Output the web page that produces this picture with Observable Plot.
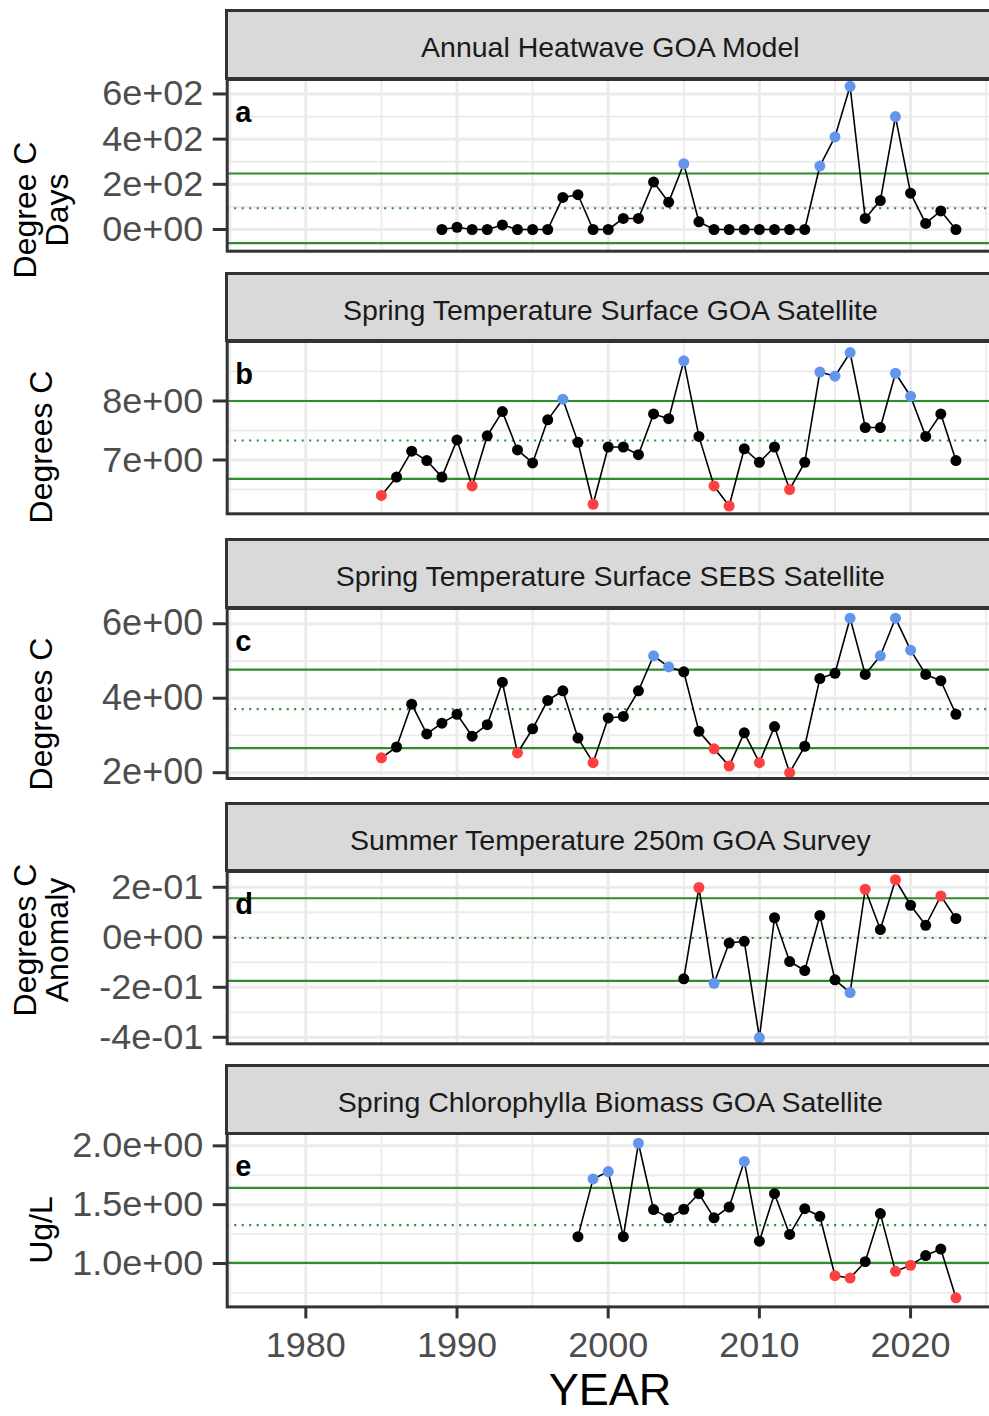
<!DOCTYPE html>
<html><head><meta charset="utf-8">
<script src="https://cdn.jsdelivr.net/npm/d3@7"></script>
<script src="https://cdn.jsdelivr.net/npm/@observablehq/plot@0.6"></script>
<style>
html,body{margin:0;padding:0;overflow:hidden;background:#fff;width:989px;height:1416px;}
#root{position:relative;width:989px;height:1416px;overflow:hidden;font-family:"Liberation Sans",Arial,sans-serif;background:#fff;}
.strip{position:absolute;box-sizing:border-box;background:#d9d9d9;border:3px solid #333;display:flex;align-items:center;justify-content:center;color:#1a1a1a;font-size:28.5px;white-space:nowrap;padding-top:6px;}
.ytitle{position:absolute;transform:translate(-50%,-50%) rotate(-90deg);text-align:center;font-size:32px;line-height:32px;white-space:pre;color:#000;}
.plot{position:absolute;left:0;width:994px;}
.xtitle{position:absolute;transform:translate(-50%,-50%);font-size:45px;line-height:36px;color:#000;white-space:nowrap;}
</style></head><body><div id="root"></div>
<script>
// ---------- data ----------
const xMajor = [1980, 1990, 2000, 2010, 2020];
const xMinor = [1975, 1985, 1995, 2005, 2015, 2025];

// a: Annual Heatwave GOA Model
const yearsA = [1989,1990,1991,1992,1993,1994,1995,1996,1997,1998,1999,2000,2001,2002,2003,2004,2005,2006,2007,2008,2009,2010,2011,2012,2013,2014,2015,2016,2017,2018,2019,2020,2021,2022,2023];
const valuesA = [0,10,0,0,20,0,0,0,142,154,0,0,49,49,210,121,291,34,0,0,0,0,0,0,0,281,410,634,49,128,500,161,27,82,0];
const statsA = [-60, 94, 248];            // lower, mean, upper
const ticksA = [0, 200, 400, 600];
const minorA = [-100, 100, 300, 500];

// b: Spring Temperature Surface GOA Satellite
const yearsB = [1985,1986,1987,1988,1989,1990,1991,1992,1993,1994,1995,1996,1997,1998,1999,2000,2001,2002,2003,2004,2005,2006,2007,2008,2009,2010,2011,2012,2013,2014,2015,2016,2017,2018,2019,2020,2021,2022,2023];
const valuesB = [6.40,6.71,7.15,6.99,6.71,7.34,6.56,7.41,7.82,7.17,6.95,7.68,8.03,7.30,6.25,7.22,7.22,7.09,7.78,7.70,8.68,7.40,6.56,6.22,7.19,6.96,7.22,6.50,6.96,8.49,8.42,8.82,7.55,7.55,8.47,8.08,7.40,7.78,6.99];
const statsB = [6.68, 7.33, 8.0];
const ticksB = [7, 8];
const minorB = [6.5, 7.5, 8.5];

// c: Spring Temperature Surface SEBS Satellite
const yearsC = [1985,1986,1987,1988,1989,1990,1991,1992,1993,1994,1995,1996,1997,1998,1999,2000,2001,2002,2003,2004,2005,2006,2007,2008,2009,2010,2011,2012,2013,2014,2015,2016,2017,2018,2019,2020,2021,2022,2023];
const valuesC = [2.40,2.69,3.84,3.04,3.33,3.57,2.98,3.29,4.43,2.53,3.18,3.94,4.20,2.93,2.27,3.47,3.51,4.20,5.14,4.84,4.71,3.11,2.64,2.18,3.07,2.27,3.24,2.00,2.71,4.53,4.67,6.15,4.64,5.14,6.15,5.29,4.64,4.47,3.57];
const statsC = [2.66, 3.71, 4.77];
const ticksC = [2, 4, 6];
const minorC = [3, 5];

// d: Summer Temperature 250m GOA Survey
const yearsD = [2005,2006,2007,2008,2009,2010,2011,2012,2013,2014,2015,2016,2017,2018,2019,2020,2021,2022,2023];
const valuesD = [-0.166,0.199,-0.184,-0.023,-0.016,-0.401,0.078,-0.097,-0.133,0.087,-0.170,-0.221,0.192,0.031,0.230,0.128,0.048,0.165,0.075];
const statsD = [-0.174, -0.003, 0.156];
const ticksD = [-0.4, -0.2, 0, 0.2];
const minorD = [-0.3, -0.1, 0.1];

// e: Spring Chlorophylla Biomass GOA Satellite
const yearsE = [1998,1999,2000,2001,2002,2003,2004,2005,2006,2007,2008,2009,2010,2011,2012,2013,2014,2015,2016,2017,2018,2019,2020,2021,2022,2023];
const valuesE = [1.228,1.719,1.781,1.228,2.022,1.458,1.388,1.461,1.593,1.388,1.480,1.868,1.190,1.593,1.247,1.466,1.401,0.896,0.876,1.015,1.424,0.933,0.985,1.067,1.123,0.708];
const statsE = [1.005, 1.326, 1.643];
const ticksE = [1.0, 1.5, 2.0];
const minorE = [0.75, 1.25, 1.75];

// ---------- styling / layout ----------
const BLUE = "#6495ED", RED = "#FF4040", GREEN = "#2E8B2E";
const FONT = '"Liberation Sans", Arial, sans-serif';
const xDomain = [1974.8, 2025.55];
const LEFT = 226.7, WIDTH = 994;

function sci(digits) {
  return v => {
    if (Math.abs(v) < 1e-12) return (digits ? (0).toFixed(digits) : "0") + "e+00";
    let e = Math.floor(Math.log10(Math.abs(v)) + 1e-9);
    let s = (v / Math.pow(10, e)).toFixed(digits);
    if (Math.abs(parseFloat(s)) >= 10) { e += 1; s = (v / Math.pow(10, e)).toFixed(digits); }
    return s + "e" + (e < 0 ? "-" : "+") + String(Math.abs(e)).padStart(2, "0");
  };
}

const panels = [
  {title: "Annual Heatwave GOA Model", tag: "a", ytitle: "Degree C\nDays", years: yearsA, values: valuesA, stats: statsA, ticks: ticksA, minor: minorA, domain: [-96, 664], digits: 0, hi: BLUE, lo: RED, stripTop: 10.7, top: 79, bottom: 250.7, titleY: 210},
  {title: "Spring Temperature Surface GOA Satellite", tag: "b", ytitle: "Degrees C", years: yearsB, values: valuesB, stats: statsB, ticks: ticksB, minor: minorB, domain: [6.088, 9.008], digits: 0, hi: BLUE, lo: RED, stripTop: 273.3, top: 341, bottom: 513.3, titleY: 447},
  {title: "Spring Temperature Surface SEBS Satellite", tag: "c", ytitle: "Degrees C", years: yearsC, values: valuesC, stats: statsC, ticks: ticksC, minor: minorC, domain: [1.844, 6.41], digits: 0, hi: BLUE, lo: RED, stripTop: 539, top: 607.5, bottom: 777.5, titleY: 714},
  {title: "Summer Temperature 250m GOA Survey", tag: "d", ytitle: "Degrees C\nAnomaly", years: yearsD, values: valuesD, stats: statsD, ticks: ticksD, minor: minorD, domain: [-0.426, 0.263], digits: 0, hi: RED, lo: BLUE, stripTop: 803.3, top: 871, bottom: 1043.3, titleY: 940},
  {title: "Spring Chlorophylla Biomass GOA Satellite", tag: "e", ytitle: "Ug/L", years: yearsE, values: valuesE, stats: statsE, ticks: ticksE, minor: minorE, domain: [0.631, 2.105], digits: 1, hi: BLUE, lo: RED, stripTop: 1065, top: 1133.3, bottom: 1306.7, titleY: 1230}
];

const root = document.getElementById("root");

panels.forEach((p, i) => {
  const isLast = i === panels.length - 1;
  // strip
  const strip = document.createElement("div");
  strip.className = "strip";
  strip.style.left = (LEFT - 1.5) + "px";
  strip.style.top = (p.stripTop - 1.5) + "px";
  strip.style.width = (WIDTH - LEFT + 3) + "px";
  strip.style.height = (p.top - p.stripTop + 3) + "px";
  strip.textContent = p.title;
  root.appendChild(strip);

  // y title
  const yt = document.createElement("div");
  yt.className = "ytitle";
  yt.style.left = "40.5px";
  yt.style.top = p.titleY + "px";
  yt.textContent = p.ytitle;
  root.appendChild(yt);

  const data = p.years.map((year, k) => ({year, value: p.values[k]}));
  const [lower, mean, upper] = p.stats;
  const colorOf = d => d.value > upper ? p.hi : d.value < lower ? p.lo : "black";
  const mt = 4, mb = isLast ? 60 : 4;
  const chart = Plot.plot({
    width: WIDTH,
    height: (p.bottom - p.top) + mt + mb,
    marginLeft: LEFT, marginRight: 0, marginTop: mt, marginBottom: mb,
    x: {domain: xDomain, axis: null},
    y: {domain: p.domain, axis: null},
    color: {type: "identity"},
    style: {fontFamily: FONT, background: "transparent", maxWidth: "none", overflow: "visible"},
    marks: [
      Plot.gridX(xMinor, {stroke: "#ebebeb", strokeOpacity: 1, strokeWidth: 1.8}),
      Plot.gridY(p.minor, {stroke: "#ebebeb", strokeOpacity: 1, strokeWidth: 1.8}),
      Plot.gridX(xMajor, {stroke: "#ebebeb", strokeOpacity: 1, strokeWidth: 3}),
      Plot.gridY(p.ticks, {stroke: "#ebebeb", strokeOpacity: 1, strokeWidth: 3}),
      Plot.ruleY([upper, lower], {stroke: GREEN, strokeWidth: 2.2}),
      Plot.ruleY([mean], {stroke: GREEN, strokeWidth: 2.2, strokeDasharray: "2 5.5"}),
      Plot.line(data, {x: "year", y: "value", stroke: "black", strokeWidth: 1.6}),
      Plot.dot(data, {x: "year", y: "value", r: 5.5, fill: colorOf, stroke: "none"}),
      Plot.text([p.tag], {text: d => d, frameAnchor: "top-left", textAnchor: "start", lineAnchor: "middle", dx: 8, dy: 33, fontWeight: "bold", fontSize: 29, fill: "black"}),
      Plot.axisY(p.ticks, {tickFormat: sci(p.digits), tickSize: 14, tickPadding: 10, fontSize: 36, color: "#4d4d4d", stroke: "#333", strokeWidth: 3, label: null}),
      isLast ? Plot.axisX(xMajor, {tickFormat: d => String(d), tickSize: 12, tickPadding: 13, fontSize: 36, color: "#4d4d4d", stroke: "#333", strokeWidth: 3, label: null}) : null,
      Plot.frame({stroke: "#333", strokeWidth: 3})
    ]
  });
  const wrap = document.createElement("div");
  wrap.className = "plot";
  wrap.style.top = (p.top - mt) + "px";
  wrap.appendChild(chart);
  root.appendChild(wrap);
});

const xt = document.createElement("div");
xt.className = "xtitle";
xt.style.left = "610px";
xt.style.top = "1390px";
xt.textContent = "YEAR";
root.appendChild(xt);
</script></body></html>
